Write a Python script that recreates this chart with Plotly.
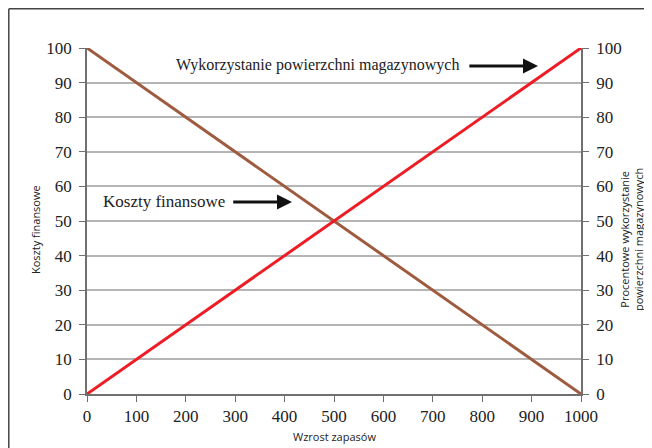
import plotly.graph_objects as go

x_vals = [0, 1000]
koszty = [100, 0]
wykorzystanie = [0, 100]
x_ticks = [0, 100, 200, 300, 400, 500, 600, 700, 800, 900, 1000]
y_ticks = [0, 10, 20, 30, 40, 50, 60, 70, 80, 90, 100]

serif = "Liberation Serif, Times New Roman, serif"
sans = "Open Sans, Liberation Sans, sans-serif"

fig = go.Figure()
fig.add_trace(go.Scatter(x=x_vals, y=koszty, mode="lines",
                         line=dict(color="#9E5B3F", width=3), showlegend=False))
fig.add_trace(go.Scatter(x=x_vals, y=wykorzystanie, mode="lines", yaxis="y2",
                         line=dict(color="#EE1C25", width=3), showlegend=False))

axis_common = dict(range=[0, 100], tickvals=y_ticks, ticks="outside", ticklen=6,
                   tickcolor="#707070", showline=True, linecolor="#707070", linewidth=1.5,
                   tickfont=dict(family=serif, size=17, color="#222"), zeroline=False,
                   automargin=False, ticklabelstandoff=4)


def px(xp):
    return (xp - 87) / 494


def py(yp):
    return (394 - yp) / 346


fig.update_layout(
    width=652, height=448,
    margin=dict(l=79, r=79, t=40, b=62),
    paper_bgcolor="white", plot_bgcolor="white",
    xaxis=dict(range=[0, 1000], tickvals=x_ticks, ticks="outside", ticklen=6,
               tickcolor="#707070", showline=True, linecolor="#707070", linewidth=1.5,
               showgrid=False, zeroline=False, automargin=False,
               tickfont=dict(family=serif, size=17, color="#222")),
    yaxis=dict(**axis_common, showgrid=True, gridcolor="#B5B5B5", gridwidth=1.5),
    yaxis2=dict(**axis_common, overlaying="y", side="right", showgrid=False),
    shapes=[
        dict(type="line", xref="paper", yref="paper", x0=px(8.8), x1=px(8.8), y0=py(470), y1=py(8.8),
             line=dict(color="#444", width=1.5)),
        dict(type="line", xref="paper", yref="paper", x0=px(8.8), x1=px(670), y0=py(8.8), y1=py(8.8),
             line=dict(color="#444", width=1.5)),
    ],
    annotations=[
        dict(x=px(334), y=py(437), xref="paper", yref="paper", xanchor="center", yanchor="middle",
             text="Wzrost zapasów", showarrow=False,
             font=dict(family=sans, size=11, color="#222")),
        dict(x=px(35), y=py(230), xref="paper", yref="paper", xanchor="center", yanchor="middle",
             text="Koszty finansowe", showarrow=False, textangle=-90,
             font=dict(family=sans, size=11, color="#222")),
        dict(x=px(632), y=py(240), xref="paper", yref="paper", xanchor="center", yanchor="middle",
             text="Procentowe wykorzystanie<br>powierzchni magazynowych", showarrow=False,
             textangle=-90, font=dict(family=sans, size=11, color="#222")),
        dict(x=466, y=95.1, xref="x", yref="y", xanchor="center", yanchor="middle",
             text="Wykorzystanie powierzchni magazynowych",
             showarrow=False, font=dict(family=serif, size=16, color="#222")),
        dict(x=913, y=94.8, xref="x", yref="y", ax=771, ay=94.8, axref="x", ayref="y",
             text="", showarrow=True, arrowhead=2, arrowsize=1, arrowwidth=3, arrowcolor="#111"),
        dict(x=156, y=55.5, xref="x", yref="y", xanchor="center", yanchor="middle",
             text="Koszty finansowe",
             showarrow=False, font=dict(family=serif, size=17, color="#222")),
        dict(x=415, y=55.5, xref="x", yref="y", ax=293, ay=55.5, axref="x", ayref="y",
             text="", showarrow=True, arrowhead=2, arrowsize=1, arrowwidth=3, arrowcolor="#111"),
    ],
)

fig.write_html("out.html")
